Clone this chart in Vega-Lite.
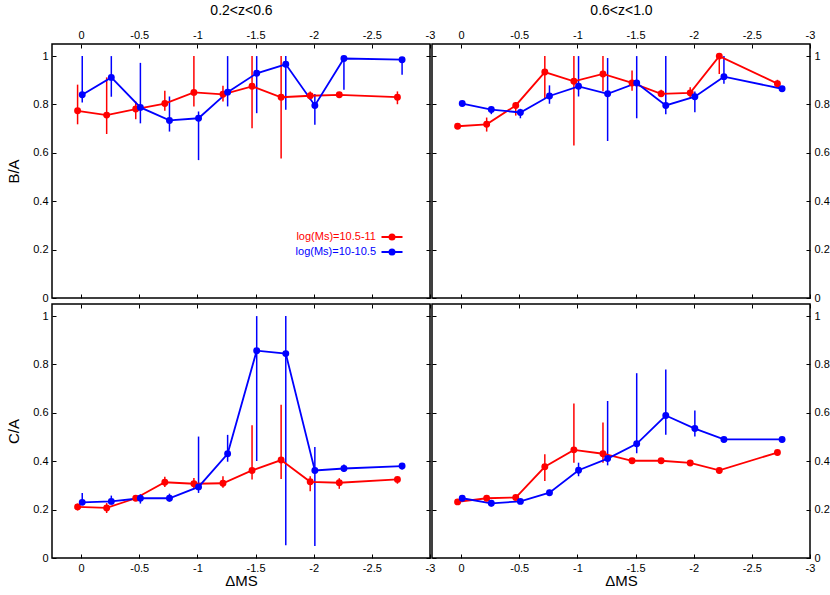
{
  "$schema": "https://vega.github.io/schema/vega-lite/v6.json",
  "background": "white",
  "padding": {"left": 5, "top": 2, "right": 0, "bottom": 0},
  "bounds": "flush",
  "columns": 2,
  "spacing": {"row": 6, "column": 2},
  "data": {"values": [
    {"p": "TL", "s": "log(Ms)=10.5-11", "x": 0.03, "y": 0.774, "lo": 0.718, "hi": 0.882},
    {"p": "TL", "s": "log(Ms)=10.5-11", "x": -0.22, "y": 0.756, "lo": 0.678, "hi": 0.912},
    {"p": "TL", "s": "log(Ms)=10.5-11", "x": -0.47, "y": 0.781, "lo": 0.739, "hi": 0.812},
    {"p": "TL", "s": "log(Ms)=10.5-11", "x": -0.72, "y": 0.804, "lo": 0.774, "hi": 0.857},
    {"p": "TL", "s": "log(Ms)=10.5-11", "x": -0.97, "y": 0.850, "lo": 0.792, "hi": 1.0},
    {"p": "TL", "s": "log(Ms)=10.5-11", "x": -1.22, "y": 0.842, "lo": 0.812, "hi": 0.877},
    {"p": "TL", "s": "log(Ms)=10.5-11", "x": -1.47, "y": 0.875, "lo": 0.702, "hi": 1.0},
    {"p": "TL", "s": "log(Ms)=10.5-11", "x": -1.72, "y": 0.830, "lo": 0.577, "hi": 1.0},
    {"p": "TL", "s": "log(Ms)=10.5-11", "x": -1.97, "y": 0.836, "lo": 0.819, "hi": 0.854},
    {"p": "TL", "s": "log(Ms)=10.5-11", "x": -2.22, "y": 0.840, "lo": 0.830, "hi": 0.850},
    {"p": "TL", "s": "log(Ms)=10.5-11", "x": -2.72, "y": 0.830, "lo": 0.801, "hi": 0.854},
    {"p": "TL", "s": "log(Ms)=10-10.5", "x": -0.01, "y": 0.840, "lo": 0.808, "hi": 1.0},
    {"p": "TL", "s": "log(Ms)=10-10.5", "x": -0.26, "y": 0.912, "lo": 0.832, "hi": 1.0},
    {"p": "TL", "s": "log(Ms)=10-10.5", "x": -0.51, "y": 0.788, "lo": 0.722, "hi": 0.972},
    {"p": "TL", "s": "log(Ms)=10-10.5", "x": -0.76, "y": 0.734, "lo": 0.688, "hi": 0.833},
    {"p": "TL", "s": "log(Ms)=10-10.5", "x": -1.01, "y": 0.743, "lo": 0.570, "hi": 0.771},
    {"p": "TL", "s": "log(Ms)=10-10.5", "x": -1.26, "y": 0.851, "lo": 0.792, "hi": 1.0},
    {"p": "TL", "s": "log(Ms)=10-10.5", "x": -1.51, "y": 0.929, "lo": 0.764, "hi": 1.0},
    {"p": "TL", "s": "log(Ms)=10-10.5", "x": -1.76, "y": 0.966, "lo": 0.778, "hi": 1.0},
    {"p": "TL", "s": "log(Ms)=10-10.5", "x": -2.01, "y": 0.796, "lo": 0.716, "hi": 0.843},
    {"p": "TL", "s": "log(Ms)=10-10.5", "x": -2.26, "y": 0.990, "lo": 0.861, "hi": 0.990},
    {"p": "TL", "s": "log(Ms)=10-10.5", "x": -2.76, "y": 0.985, "lo": 0.923, "hi": 0.985},
    {"p": "TR", "s": "log(Ms)=10.5-11", "x": 0.03, "y": 0.710, "lo": 0.705, "hi": 0.715},
    {"p": "TR", "s": "log(Ms)=10.5-11", "x": -0.22, "y": 0.718, "lo": 0.688, "hi": 0.746},
    {"p": "TR", "s": "log(Ms)=10.5-11", "x": -0.47, "y": 0.796, "lo": 0.754, "hi": 0.810},
    {"p": "TR", "s": "log(Ms)=10.5-11", "x": -0.72, "y": 0.934, "lo": 0.826, "hi": 1.0},
    {"p": "TR", "s": "log(Ms)=10.5-11", "x": -0.97, "y": 0.896, "lo": 0.630, "hi": 1.0},
    {"p": "TR", "s": "log(Ms)=10.5-11", "x": -1.22, "y": 0.926, "lo": 0.855, "hi": 1.0},
    {"p": "TR", "s": "log(Ms)=10.5-11", "x": -1.47, "y": 0.889, "lo": 0.857, "hi": 0.940},
    {"p": "TR", "s": "log(Ms)=10.5-11", "x": -1.72, "y": 0.844, "lo": 0.833, "hi": 0.861},
    {"p": "TR", "s": "log(Ms)=10.5-11", "x": -1.97, "y": 0.848, "lo": 0.826, "hi": 0.871},
    {"p": "TR", "s": "log(Ms)=10.5-11", "x": -2.22, "y": 1.0, "lo": 0.926, "hi": 1.0},
    {"p": "TR", "s": "log(Ms)=10.5-11", "x": -2.72, "y": 0.886, "lo": 0.868, "hi": 0.902},
    {"p": "TR", "s": "log(Ms)=10-10.5", "x": -0.01, "y": 0.804, "lo": 0.800, "hi": 0.808},
    {"p": "TR", "s": "log(Ms)=10-10.5", "x": -0.26, "y": 0.779, "lo": 0.760, "hi": 0.792},
    {"p": "TR", "s": "log(Ms)=10-10.5", "x": -0.51, "y": 0.767, "lo": 0.743, "hi": 0.782},
    {"p": "TR", "s": "log(Ms)=10-10.5", "x": -0.76, "y": 0.835, "lo": 0.803, "hi": 0.879},
    {"p": "TR", "s": "log(Ms)=10-10.5", "x": -1.01, "y": 0.875, "lo": 0.833, "hi": 1.0},
    {"p": "TR", "s": "log(Ms)=10-10.5", "x": -1.26, "y": 0.844, "lo": 0.649, "hi": 0.992},
    {"p": "TR", "s": "log(Ms)=10-10.5", "x": -1.51, "y": 0.889, "lo": 0.743, "hi": 1.0},
    {"p": "TR", "s": "log(Ms)=10-10.5", "x": -1.76, "y": 0.796, "lo": 0.760, "hi": 1.0},
    {"p": "TR", "s": "log(Ms)=10-10.5", "x": -2.01, "y": 0.832, "lo": 0.768, "hi": 0.854},
    {"p": "TR", "s": "log(Ms)=10-10.5", "x": -2.26, "y": 0.915, "lo": 0.886, "hi": 1.0},
    {"p": "TR", "s": "log(Ms)=10-10.5", "x": -2.76, "y": 0.865, "lo": 0.862, "hi": 0.868},
    {"p": "BL", "s": "log(Ms)=10.5-11", "x": 0.03, "y": 0.211, "lo": 0.197, "hi": 0.225},
    {"p": "BL", "s": "log(Ms)=10.5-11", "x": -0.22, "y": 0.207, "lo": 0.186, "hi": 0.227},
    {"p": "BL", "s": "log(Ms)=10.5-11", "x": -0.47, "y": 0.247, "lo": 0.236, "hi": 0.258},
    {"p": "BL", "s": "log(Ms)=10.5-11", "x": -0.72, "y": 0.313, "lo": 0.294, "hi": 0.336},
    {"p": "BL", "s": "log(Ms)=10.5-11", "x": -0.97, "y": 0.307, "lo": 0.286, "hi": 0.331},
    {"p": "BL", "s": "log(Ms)=10.5-11", "x": -1.22, "y": 0.309, "lo": 0.290, "hi": 0.338},
    {"p": "BL", "s": "log(Ms)=10.5-11", "x": -1.47, "y": 0.362, "lo": 0.325, "hi": 0.549},
    {"p": "BL", "s": "log(Ms)=10.5-11", "x": -1.72, "y": 0.405, "lo": 0.327, "hi": 0.634},
    {"p": "BL", "s": "log(Ms)=10.5-11", "x": -1.97, "y": 0.315, "lo": 0.276, "hi": 0.338},
    {"p": "BL", "s": "log(Ms)=10.5-11", "x": -2.22, "y": 0.311, "lo": 0.286, "hi": 0.330},
    {"p": "BL", "s": "log(Ms)=10.5-11", "x": -2.72, "y": 0.325, "lo": 0.307, "hi": 0.334},
    {"p": "BL", "s": "log(Ms)=10-10.5", "x": -0.01, "y": 0.230, "lo": 0.219, "hi": 0.269},
    {"p": "BL", "s": "log(Ms)=10-10.5", "x": -0.26, "y": 0.234, "lo": 0.221, "hi": 0.258},
    {"p": "BL", "s": "log(Ms)=10-10.5", "x": -0.51, "y": 0.247, "lo": 0.225, "hi": 0.264},
    {"p": "BL", "s": "log(Ms)=10-10.5", "x": -0.76, "y": 0.247, "lo": 0.233, "hi": 0.266},
    {"p": "BL", "s": "log(Ms)=10-10.5", "x": -1.01, "y": 0.294, "lo": 0.269, "hi": 0.502},
    {"p": "BL", "s": "log(Ms)=10-10.5", "x": -1.26, "y": 0.431, "lo": 0.398, "hi": 0.509},
    {"p": "BL", "s": "log(Ms)=10-10.5", "x": -1.51, "y": 0.857, "lo": 0.401, "hi": 1.0},
    {"p": "BL", "s": "log(Ms)=10-10.5", "x": -1.76, "y": 0.845, "lo": 0.053, "hi": 1.0},
    {"p": "BL", "s": "log(Ms)=10-10.5", "x": -2.01, "y": 0.362, "lo": 0.050, "hi": 0.459},
    {"p": "BL", "s": "log(Ms)=10-10.5", "x": -2.26, "y": 0.370, "lo": 0.355, "hi": 0.387},
    {"p": "BL", "s": "log(Ms)=10-10.5", "x": -2.76, "y": 0.380, "lo": 0.366, "hi": 0.391},
    {"p": "BR", "s": "log(Ms)=10.5-11", "x": 0.03, "y": 0.232, "lo": 0.225, "hi": 0.239},
    {"p": "BR", "s": "log(Ms)=10.5-11", "x": -0.22, "y": 0.247, "lo": 0.240, "hi": 0.254},
    {"p": "BR", "s": "log(Ms)=10.5-11", "x": -0.47, "y": 0.250, "lo": 0.243, "hi": 0.257},
    {"p": "BR", "s": "log(Ms)=10.5-11", "x": -0.72, "y": 0.377, "lo": 0.318, "hi": 0.429},
    {"p": "BR", "s": "log(Ms)=10.5-11", "x": -0.97, "y": 0.447, "lo": 0.394, "hi": 0.639},
    {"p": "BR", "s": "log(Ms)=10.5-11", "x": -1.22, "y": 0.431, "lo": 0.394, "hi": 0.560},
    {"p": "BR", "s": "log(Ms)=10.5-11", "x": -1.47, "y": 0.402, "lo": 0.395, "hi": 0.409},
    {"p": "BR", "s": "log(Ms)=10.5-11", "x": -1.72, "y": 0.402, "lo": 0.396, "hi": 0.408},
    {"p": "BR", "s": "log(Ms)=10.5-11", "x": -1.97, "y": 0.393, "lo": 0.382, "hi": 0.403},
    {"p": "BR", "s": "log(Ms)=10.5-11", "x": -2.22, "y": 0.362, "lo": 0.350, "hi": 0.373},
    {"p": "BR", "s": "log(Ms)=10.5-11", "x": -2.72, "y": 0.436, "lo": 0.425, "hi": 0.447},
    {"p": "BR", "s": "log(Ms)=10-10.5", "x": -0.01, "y": 0.247, "lo": 0.233, "hi": 0.258},
    {"p": "BR", "s": "log(Ms)=10-10.5", "x": -0.26, "y": 0.226, "lo": 0.213, "hi": 0.238},
    {"p": "BR", "s": "log(Ms)=10-10.5", "x": -0.51, "y": 0.234, "lo": 0.225, "hi": 0.243},
    {"p": "BR", "s": "log(Ms)=10-10.5", "x": -0.76, "y": 0.270, "lo": 0.258, "hi": 0.282},
    {"p": "BR", "s": "log(Ms)=10-10.5", "x": -1.01, "y": 0.363, "lo": 0.338, "hi": 0.394},
    {"p": "BR", "s": "log(Ms)=10-10.5", "x": -1.26, "y": 0.411, "lo": 0.383, "hi": 0.649},
    {"p": "BR", "s": "log(Ms)=10-10.5", "x": -1.51, "y": 0.472, "lo": 0.433, "hi": 0.764},
    {"p": "BR", "s": "log(Ms)=10-10.5", "x": -1.76, "y": 0.589, "lo": 0.509, "hi": 0.779},
    {"p": "BR", "s": "log(Ms)=10-10.5", "x": -2.01, "y": 0.535, "lo": 0.502, "hi": 0.610},
    {"p": "BR", "s": "log(Ms)=10-10.5", "x": -2.26, "y": 0.490, "lo": 0.483, "hi": 0.497},
    {"p": "BR", "s": "log(Ms)=10-10.5", "x": -2.76, "y": 0.490, "lo": 0.483, "hi": 0.497}
  ]},
  "concat": [
    {
      "width": 378, "height": 254,
      "transform": [{"filter": "datum.p == 'TL'"}],
      "layer": [
        {"mark": {"type": "rule", "strokeWidth": 1.5},
         "encoding": {
           "x": {"field": "x", "type": "quantitative", "scale": {"domain": [0.25, -3], "nice": false, "zero": false},
                 "axis": {"orient": "bottom", "values": [0, -0.5, -1, -1.5, -2, -2.5, -3], "labels": false, "title": null}},
           "y": {"field": "lo", "type": "quantitative", "scale": {"domain": [0, 1.05], "nice": false, "zero": false},
                 "axis": {"orient": "right", "values": [0, 0.2, 0.4, 0.6, 0.8, 1], "labels": false, "title": null}},
           "y2": {"field": "hi"},
           "color": {"field": "s", "type": "nominal", "scale": {"domain": ["log(Ms)=10.5-11", "log(Ms)=10-10.5"], "range": ["#ff0000", "#0000ff"]}}}},
        {"mark": {"type": "line", "strokeWidth": 1.8},
         "encoding": {
           "x": {"field": "x", "type": "quantitative",
                 "axis": {"orient": "top", "values": [0, -0.5, -1, -1.5, -2, -2.5, -3], "labelExpr": "'' + datum.value", "title": "0.2<z<0.6", "titlePadding": 12}},
           "y": {"field": "y", "type": "quantitative",
                 "axis": {"orient": "left", "values": [0, 0.2, 0.4, 0.6, 0.8, 1], "labelExpr": "'' + datum.value", "title": "B/A", "titlePadding": 11}},
           "color": {"field": "s", "type": "nominal",
                      "legend": {"orient": "none", "legendX": 334, "legendY": 187, "title": null, "labelFontSize": 11,
                                 "labelColor": {"expr": "datum.value == 'log(Ms)=10.5-11' ? '#ff0000' : '#0000ff'"},
                                 "symbolType": "M-2.1,0H2.1M-0.5,0A0.5,0.5,0,1,0,0.5,0A0.5,0.5,0,1,0,-0.5,0M-0.2,0A0.2,0.2,0,1,0,0.2,0A0.2,0.2,0,1,0,-0.2,0",
                                 "symbolSize": 100, "symbolStrokeWidth": 2, "labelAlign": "right", "labelOffset": -22, "rowPadding": 1}}}},
        {"mark": {"type": "point", "filled": true, "size": 48, "opacity": 1},
         "encoding": {
           "x": {"field": "x", "type": "quantitative", "axis": null},
           "y": {"field": "y", "type": "quantitative", "axis": null},
           "color": {"field": "s", "type": "nominal"}}}
      ],
      "resolve": {"axis": {"x": "independent", "y": "independent"}}
    },
    {
      "width": 378, "height": 254,
      "transform": [{"filter": "datum.p == 'TR'"}],
      "layer": [
        {"mark": {"type": "rule", "strokeWidth": 1.5},
         "encoding": {
           "x": {"field": "x", "type": "quantitative", "scale": {"domain": [0.25, -3], "nice": false, "zero": false},
                 "axis": {"orient": "bottom", "values": [0, -0.5, -1, -1.5, -2, -2.5, -3], "labels": false, "title": null}},
           "y": {"field": "lo", "type": "quantitative", "scale": {"domain": [0, 1.05], "nice": false, "zero": false},
                 "axis": {"orient": "left", "values": [0, 0.2, 0.4, 0.6, 0.8, 1], "labels": false, "title": null}},
           "y2": {"field": "hi"},
           "color": {"field": "s", "type": "nominal"}}},
        {"mark": {"type": "line", "strokeWidth": 1.8},
         "encoding": {
           "x": {"field": "x", "type": "quantitative",
                 "axis": {"orient": "top", "values": [0, -0.5, -1, -1.5, -2, -2.5, -3], "labelExpr": "'' + datum.value", "title": "0.6<z<1.0", "titlePadding": 12}},
           "y": {"field": "y", "type": "quantitative",
                 "axis": {"orient": "right", "values": [0, 0.2, 0.4, 0.6, 0.8, 1], "labelExpr": "'' + datum.value", "title": null}},
           "color": {"field": "s", "type": "nominal"}}},
        {"mark": {"type": "point", "filled": true, "size": 48, "opacity": 1},
         "encoding": {
           "x": {"field": "x", "type": "quantitative", "axis": null},
           "y": {"field": "y", "type": "quantitative", "axis": null},
           "color": {"field": "s", "type": "nominal"}}}
      ],
      "resolve": {"axis": {"x": "independent", "y": "independent"}}
    },
    {
      "width": 378, "height": 254,
      "transform": [{"filter": "datum.p == 'BL'"}],
      "layer": [
        {"mark": {"type": "rule", "strokeWidth": 1.5},
         "encoding": {
           "x": {"field": "x", "type": "quantitative", "scale": {"domain": [0.25, -3], "nice": false, "zero": false},
                 "axis": {"orient": "top", "values": [0, -0.5, -1, -1.5, -2, -2.5, -3], "labels": false, "title": null}},
           "y": {"field": "lo", "type": "quantitative", "scale": {"domain": [0, 1.05], "nice": false, "zero": false},
                 "axis": {"orient": "right", "values": [0, 0.2, 0.4, 0.6, 0.8, 1], "labels": false, "title": null}},
           "y2": {"field": "hi"},
           "color": {"field": "s", "type": "nominal"}}},
        {"mark": {"type": "line", "strokeWidth": 1.8},
         "encoding": {
           "x": {"field": "x", "type": "quantitative",
                 "axis": {"orient": "bottom", "values": [0, -0.5, -1, -1.5, -2, -2.5, -3], "labelExpr": "'' + datum.value", "title": "ΔMS", "titlePadding": 0}},
           "y": {"field": "y", "type": "quantitative",
                 "axis": {"orient": "left", "values": [0, 0.2, 0.4, 0.6, 0.8, 1], "labelExpr": "'' + datum.value", "title": "C/A", "titlePadding": 11}},
           "color": {"field": "s", "type": "nominal"}}},
        {"mark": {"type": "point", "filled": true, "size": 48, "opacity": 1},
         "encoding": {
           "x": {"field": "x", "type": "quantitative", "axis": null},
           "y": {"field": "y", "type": "quantitative", "axis": null},
           "color": {"field": "s", "type": "nominal"}}}
      ],
      "resolve": {"axis": {"x": "independent", "y": "independent"}}
    },
    {
      "width": 378, "height": 254,
      "transform": [{"filter": "datum.p == 'BR'"}],
      "layer": [
        {"mark": {"type": "rule", "strokeWidth": 1.5},
         "encoding": {
           "x": {"field": "x", "type": "quantitative", "scale": {"domain": [0.25, -3], "nice": false, "zero": false},
                 "axis": {"orient": "top", "values": [0, -0.5, -1, -1.5, -2, -2.5, -3], "labels": false, "title": null}},
           "y": {"field": "lo", "type": "quantitative", "scale": {"domain": [0, 1.05], "nice": false, "zero": false},
                 "axis": {"orient": "left", "values": [0, 0.2, 0.4, 0.6, 0.8, 1], "labels": false, "title": null}},
           "y2": {"field": "hi"},
           "color": {"field": "s", "type": "nominal"}}},
        {"mark": {"type": "line", "strokeWidth": 1.8},
         "encoding": {
           "x": {"field": "x", "type": "quantitative",
                 "axis": {"orient": "bottom", "values": [0, -0.5, -1, -1.5, -2, -2.5, -3], "labelExpr": "'' + datum.value", "title": "ΔMS", "titlePadding": 0}},
           "y": {"field": "y", "type": "quantitative",
                 "axis": {"orient": "right", "values": [0, 0.2, 0.4, 0.6, 0.8, 1], "labelExpr": "'' + datum.value", "title": null}},
           "color": {"field": "s", "type": "nominal"}}},
        {"mark": {"type": "point", "filled": true, "size": 48, "opacity": 1},
         "encoding": {
           "x": {"field": "x", "type": "quantitative", "axis": null},
           "y": {"field": "y", "type": "quantitative", "axis": null},
           "color": {"field": "s", "type": "nominal"}}}
      ],
      "resolve": {"axis": {"x": "independent", "y": "independent"}}
    }
  ],
  "config": {
    "font": "Liberation Sans",
    "view": {"stroke": "black", "strokeWidth": 1.5},
    "axis": {
      "domain": false, "grid": false, "tickSize": -4, "tickColor": "black", "tickWidth": 1,
      "labelFont": "Liberation Sans", "labelFontSize": 11, "labelColor": "black", "labelPadding": 8,
      "labelFlush": false, "labelOverlap": false,
      "titleFont": "Liberation Sans", "titleFontSize": 15, "titleFontWeight": "normal", "titleColor": "black"
    },
    "axisTop": {"titleFontSize": 14},
    "legend": {"labelFont": "Liberation Sans"}
  }
}
